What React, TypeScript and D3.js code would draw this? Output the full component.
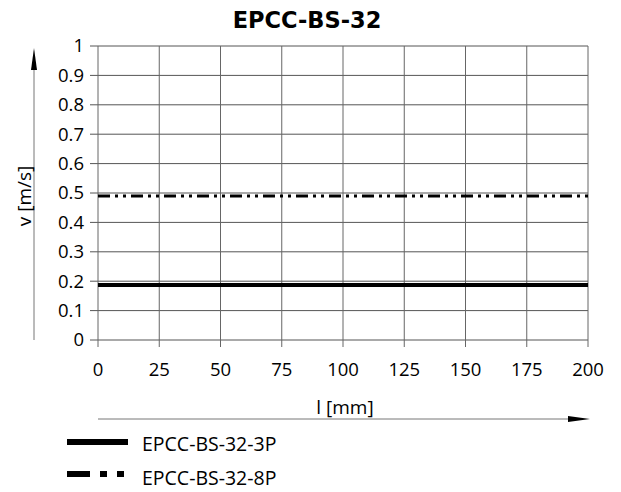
import React from "react";
import * as d3 from "d3";

const xTicks = [0, 25, 50, 75, 100, 125, 150, 175, 200];
const yTicks = [0, 0.1, 0.2, 0.3, 0.4, 0.5, 0.6, 0.7, 0.8, 0.9, 1];
const seriesNames = ["EPCC-BS-32-3P", "EPCC-BS-32-8P"];
const seriesX = [0, 200];
const series3P = [0.187, 0.187];
const series8P = [0.49, 0.49];
const title = "EPCC-BS-32";
const xLabel = "l [mm]";
const yLabel = "v [m/s]";

const W = 621;
const H = 492;
const left = 98;
const right = 588;
const top = 46;
const bottom = 340;

export default function App() {
  const x = d3.scaleLinear().domain([0, 200]).range([left, right]);
  const y = d3.scaleLinear().domain([0, 1]).range([bottom, top]);
  const line = d3
    .line<number>()
    .x((_, i) => x(seriesX[i]))
    .y((d) => y(d));
  const font = "'Open Sans', 'Noto Sans', sans-serif";
  const dash8 = "12 5 3 5 3 5";
  return (
    <svg
      width={W}
      height={H}
      style={{ position: "absolute", left: 0, top: 0, background: "#fff" }}
      fontFamily={font}
    >
      <text
        x={307}
        y={28}
        textAnchor="middle"
        fontFamily="'DejaVu Sans', Verdana, sans-serif"
        fontWeight="bold"
        fontSize={22.5}
        fill="#000"
      >
        {title}
      </text>
      {/* grid */}
      {yTicks.map((t) => (
        <line
          key={"gy" + t}
          x1={left - 8}
          x2={right}
          y1={y(t)}
          y2={y(t)}
          stroke="#555"
          strokeWidth={1}
        />
      ))}
      {xTicks.map((t) => (
        <line
          key={"gx" + t}
          x1={x(t)}
          x2={x(t)}
          y1={top}
          y2={bottom + 7}
          stroke="#666"
          strokeWidth={1}
        />
      ))}
      {yTicks.map((t) => (
        <text
          key={"ty" + t}
          x={left - 14}
          y={y(t)}
          dy="0.35em"
          textAnchor="end"
          fontSize={18.5}
          fill="#000"
        >
          {d3.format("~g")(t)}
        </text>
      ))}
      {xTicks.map((t) => (
        <text
          key={"tx" + t}
          x={x(t)}
          y={370}
          dy="0.35em"
          textAnchor="middle"
          fontSize={18.5}
          fill="#000"
        >
          {t}
        </text>
      ))}
      {/* series */}
      <path d={line(series3P) || ""} fill="none" stroke="#000" strokeWidth={4} />
      <path
        d={line(series8P) || ""}
        fill="none"
        stroke="#000"
        strokeWidth={3}
        strokeDasharray={dash8}
      />
      {/* y axis arrow */}
      <line x1={34} x2={34} y1={66} y2={340} stroke="#777" strokeWidth={1} />
      <path d="M34,48 L31,70 L37,70 Z" fill="#000" />
      <text
        transform={`translate(24,196) rotate(-90)`}
        textAnchor="middle"
        dy="0.35em"
        fontSize={19}
        fill="#000"
      >
        {yLabel}
      </text>
      {/* x axis arrow */}
      <line x1={left} x2={572} y1={419} y2={419} stroke="#777" strokeWidth={1} />
      <path d="M590,419 L568,416 L568,422 Z" fill="#000" />
      <text x={345} y={407} dy="0.35em" textAnchor="middle" fontSize={19} fill="#000">
        {xLabel}
      </text>
      {/* legend */}
      <line x1={67} x2={128} y1={442} y2={442} stroke="#000" strokeWidth={6} />
      <text x={142} y={444.5} dy="0.35em" fontSize={19.5} fill="#000">
        {seriesNames[0]}
      </text>
      <line
        x1={67}
        x2={124}
        y1={474}
        y2={474}
        stroke="#000"
        strokeWidth={6}
        strokeDasharray="23 10 7 10 7 20"
      />
      <text x={142} y={478} dy="0.35em" fontSize={19.5} fill="#000">
        {seriesNames[1]}
      </text>
    </svg>
  );
}
